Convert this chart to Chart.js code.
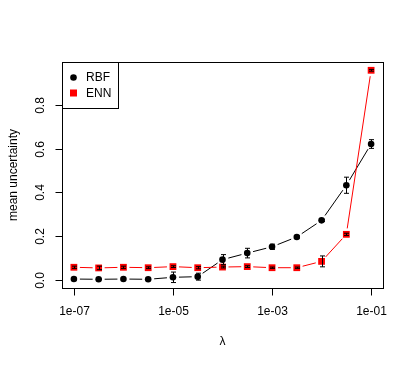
<!DOCTYPE html>
<html>
<head>
<meta charset="utf-8">
<script src="https://cdn.jsdelivr.net/npm/chart.js@4"></script>
<style>
  html, body { margin: 0; padding: 0; background: #fff; }
  canvas { display: block; }
</style>
</head>
<body>
<canvas id="chart" width="415" height="366"></canvas>
<script>
// lambda grid, half-decade steps
const lambdas = [1e-7, 3.16e-7, 1e-6, 3.16e-6, 1e-5, 3.16e-5, 1e-4, 3.16e-4, 1e-3, 3.16e-3, 1e-2, 3.16e-2, 1e-1];

const rbfMean = [0.003, 0.002, 0.003, 0.002, 0.011, 0.014, 0.092, 0.122, 0.151, 0.196, 0.272, 0.433, 0.622];
const rbfErr  = [0.003, 0.002, 0.003, 0.002, 0.024, 0.016, 0.023, 0.022, 0.012, 0.005, 0.005, 0.037, 0.020];

const ennMean = [0.057, 0.054, 0.057, 0.055, 0.060, 0.055, 0.058, 0.060, 0.055, 0.055, 0.084, 0.208, 0.960];
const ennErr  = [0.005, 0.008, 0.005, 0.004, 0.004, 0.005, 0.004, 0.004, 0.003, 0.003, 0.025, 0.005, 0.004];

const xTicks = [1e-7, 1e-5, 1e-3, 1e-1];
const xTickLabels = ['1e-07', '1e-05', '1e-03', '1e-01'];
const yTicks = [0, 0.2, 0.4, 0.6, 0.8];
const yTickLabels = ['0.0', '0.2', '0.4', '0.6', '0.8'];

const FONT = '12px "Liberation Sans", Arial, sans-serif';
const errs = [rbfErr, ennErr];

// R style: type="b" lines with gaps, error bars, box, axes, legend
const rBase = {
    id: 'rBase',
    beforeDatasetsDraw(chart) {
        const ctx = chart.ctx;
        const gap = 6;
        chart.data.datasets.forEach((ds, i) => {
            const pts = chart.getDatasetMeta(i).data;
            ctx.save();
            ctx.strokeStyle = ds.lineColor;
            ctx.lineWidth = 1;
            for (let k = 0; k < pts.length - 1; k++) {
                const a = pts[k], b = pts[k + 1];
                const dx = b.x - a.x, dy = b.y - a.y;
                const len = Math.hypot(dx, dy);
                if (len <= 2 * gap) continue;
                const ux = dx / len, uy = dy / len;
                ctx.beginPath();
                ctx.moveTo(a.x + ux * gap, a.y + uy * gap);
                ctx.lineTo(b.x - ux * gap, b.y - uy * gap);
                ctx.stroke();
            }
            ctx.restore();
        });
    },
    afterDatasetsDraw(chart) {
        const ctx = chart.ctx;
        const y = chart.scales.y;
        ctx.save();
        ctx.strokeStyle = '#000';
        ctx.lineWidth = 1;
        chart.data.datasets.forEach((ds, i) => {
            const pts = chart.getDatasetMeta(i).data;
            pts.forEach((p, k) => {
                const v = ds.data[k].y, e = errs[i][k];
                const top = y.getPixelForValue(v + e);
                const bot = y.getPixelForValue(v - e);
                const x = Math.round(p.x) + 0.5;
                ctx.beginPath();
                ctx.moveTo(x, top); ctx.lineTo(x, bot);
                ctx.moveTo(x - 2.5, top); ctx.lineTo(x + 2.5, top);
                ctx.moveTo(x - 2.5, bot); ctx.lineTo(x + 2.5, bot);
                ctx.stroke();
            });
        });
        ctx.restore();
    },
    afterDraw(chart) {
        const ctx = chart.ctx;
        const area = chart.chartArea;
        const xs = chart.scales.x, ys = chart.scales.y;
        const L = Math.round(area.left) + 0.5, R = Math.round(area.right) + 0.5;
        const T = Math.round(area.top) + 0.5, B = Math.round(area.bottom) + 0.5;
        ctx.save();
        ctx.strokeStyle = '#000';
        ctx.fillStyle = '#000';
        ctx.lineWidth = 1;
        ctx.strokeRect(L, T, R - L, B - T);

        // x axis
        const xp = xTicks.map(v => Math.round(xs.getPixelForValue(v)) + 0.5);
        ctx.beginPath();
        ctx.moveTo(xp[0], B); ctx.lineTo(xp[xp.length - 1], B);
        xp.forEach(x => { ctx.moveTo(x, B); ctx.lineTo(x, B + 7); });
        ctx.stroke();
        ctx.font = FONT;
        ctx.textAlign = 'center';
        ctx.textBaseline = 'middle';
        xp.forEach((x, k) => ctx.fillText(xTickLabels[k], x, 312));
        ctx.fillText('λ', (area.left + area.right) / 2, 342);

        // y axis
        const yp = yTicks.map(v => Math.round(ys.getPixelForValue(v)) + 0.5);
        ctx.beginPath();
        ctx.moveTo(L, yp[0]); ctx.lineTo(L, yp[yp.length - 1]);
        yp.forEach(y => { ctx.moveTo(L, y); ctx.lineTo(L - 7, y); });
        ctx.stroke();
        yp.forEach((y, k) => {
            ctx.save();
            ctx.translate(41, y);
            ctx.rotate(-Math.PI / 2);
            ctx.fillText(yTickLabels[k], 0, 0);
            ctx.restore();
        });
        ctx.save();
        ctx.translate(14, (area.top + area.bottom) / 2);
        ctx.rotate(-Math.PI / 2);
        ctx.fillText('mean uncertainty', 0, 0);
        ctx.restore();

        // legend
        ctx.strokeRect(L, T, 56, 46);
        ctx.textAlign = 'left';
        ctx.beginPath();
        ctx.arc(73.5, 77.5, 3.3, 0, Math.PI * 2);
        ctx.fill();
        ctx.fillText('RBF', 86, 78);
        ctx.fillStyle = '#ff0000';
        ctx.fillRect(70, 89.5, 7, 7);
        ctx.fillStyle = '#000';
        ctx.fillText('ENN', 86, 93.5);
        ctx.restore();
    }
};

new Chart(document.getElementById('chart').getContext('2d'), {
    type: 'scatter',
    data: {
        datasets: [
            {
                label: 'RBF',
                data: lambdas.map((l, i) => ({ x: l, y: rbfMean[i] })),
                lineColor: '#000',
                pointStyle: 'circle',
                pointRadius: 3.3,
                pointBackgroundColor: '#000',
                pointBorderWidth: 0,
                showLine: false
            },
            {
                label: 'ENN',
                data: lambdas.map((l, i) => ({ x: l, y: ennMean[i] })),
                lineColor: '#ff0000',
                pointStyle: 'rect',
                pointRadius: 4.8,
                pointBackgroundColor: '#ff0000',
                pointBorderWidth: 0,
                showLine: false
            }
        ]
    },
    options: {
        responsive: false,
        animation: false,
        devicePixelRatio: 1,
        layout: { padding: { left: 62, right: 32, top: 62, bottom: 78 } },
        plugins: { legend: { display: false }, tooltip: { enabled: false } },
        scales: {
            x: {
                type: 'logarithmic',
                display: false,
                min: Math.pow(10, -7.24),
                max: Math.pow(10, -0.76)
            },
            y: {
                type: 'linear',
                display: false,
                min: -0.038,
                max: 0.998
            }
        }
    },
    plugins: [rBase]
});
</script>
</body>
</html>
